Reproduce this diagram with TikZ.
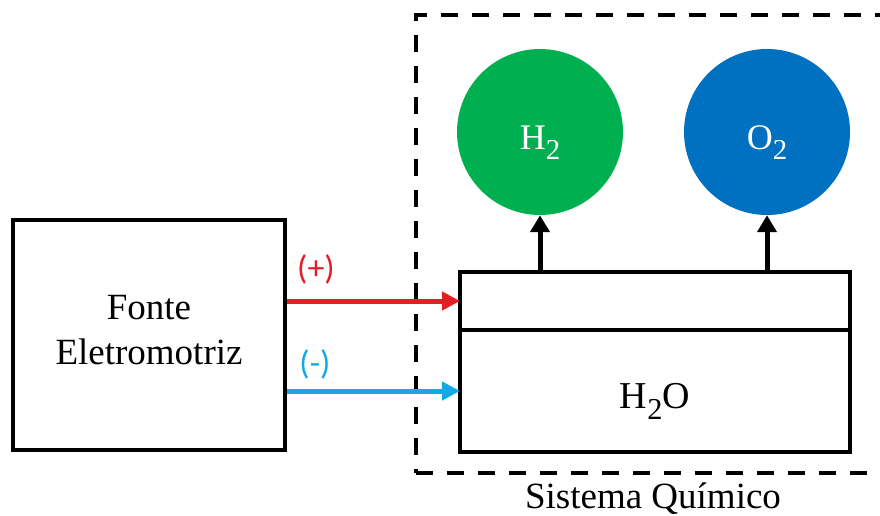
\documentclass[tikz,border=0pt]{standalone}
\usepackage{fontspec}
\setmainfont{Liberation Serif}
\newfontfamily\calibri{Carlito}
\usepackage{tikz}
\usetikzlibrary{arrows.meta,positioning}

\definecolor{polored}{RGB}{228,30,36}
\definecolor{polocyan}{RGB}{20,170,225}
\definecolor{gasgreen}{RGB}{0,176,80}
\definecolor{gasblue}{RGB}{0,112,192}

\newcommand{\subidx}[1]{\raisebox{-0.3em}{\scalebox{0.8}{#1}}}

\begin{document}
\begin{tikzpicture}[
    x=1pt, y=-1pt,
    box/.style={rectangle, draw, line width=4pt, align=center, font=\fontsize{37}{45}\selectfont},
    cell/.style={rectangle, draw, line width=4pt, minimum width=390pt, inner sep=0pt, outer sep=0pt},
    gas/.style={circle, minimum size=166pt, inner sep=0pt, text=white, text height=40pt, text depth=6pt,
        font=\fontsize{36}{40}\selectfont},
    wire/.style={-{Triangle[length=18pt,width=18pt]}, line width=5pt},
    gasarrow/.style={-{Triangle[length=17pt,width=19pt]}, line width=5pt},
    polo/.style={font=\calibri\fontsize{34}{40}\selectfont}
]
\useasboundingbox (0,0) rectangle (880,516);

\node[rectangle, draw, line width=4pt, dash pattern=on 17pt off 14pt,
      minimum width=474pt, minimum height=458pt,
      label={[font=\fontsize{37}{45}\selectfont, label distance=4pt]below:Sistema Químico}] (sistema) at (653,244) {};

\node[box, minimum width=272pt, minimum height=230pt, text depth=10pt] (fonte) at (149,335) {Fonte\\Eletromotriz};

\node[cell, minimum height=58pt] (topo) at (655,301) {};
\node[cell, minimum height=122pt, below=0pt of topo, text height=41pt, text depth=6pt,
      font=\fontsize{38}{45}\selectfont] (agua) {H\subidx{2}O};

\node[gas, fill=gasgreen] (h2) at (540,132) {H\subidx{2}};
\node[gas, fill=gasblue] (o2) at (767,132) {O\subidx{2}};

\draw[gasarrow] (topo.north -| h2.south) -- (h2.south);
\draw[gasarrow] (topo.north -| o2.south) -- (o2.south);

\draw[wire, polored] (fonte.east |- topo.west) -- (topo.west);
\draw[wire, polocyan] (fonte.east |- agua.west) -- (agua.west);

\node[polo, text=polored] (mais) at (316,269) {(+)};
\node[polo, text=polocyan] (menos) at (315,364) {(-)};
\end{tikzpicture}
\end{document}
